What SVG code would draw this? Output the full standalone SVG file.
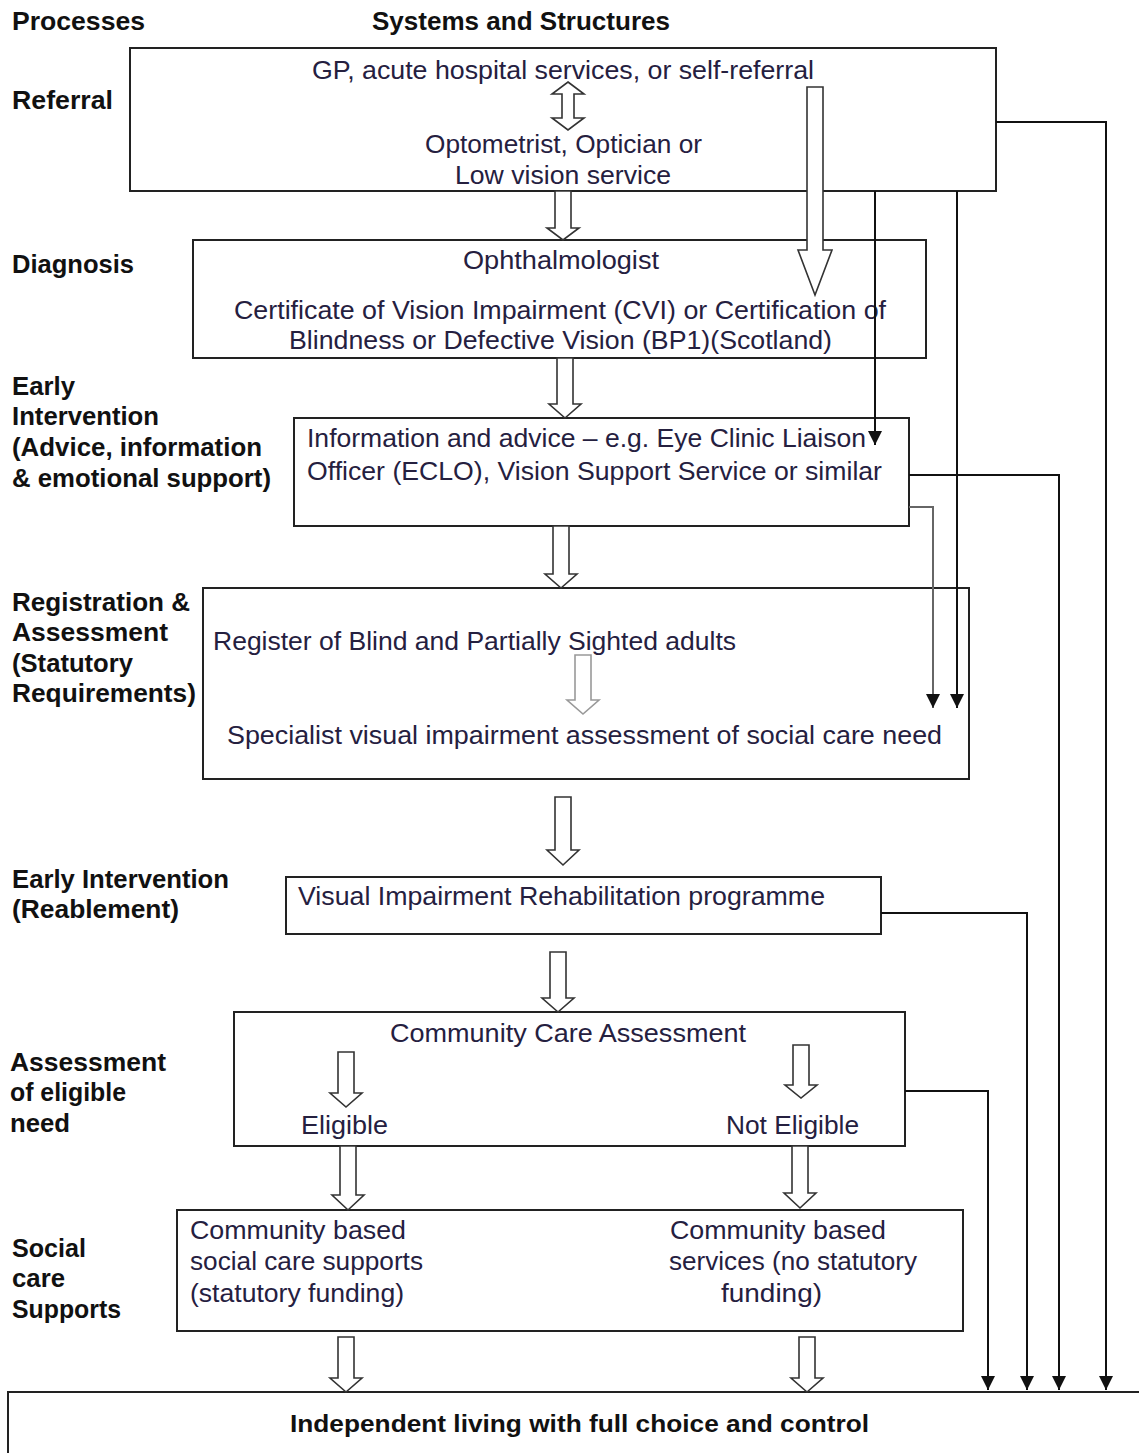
<svg xmlns="http://www.w3.org/2000/svg" width="1139" height="1453" viewBox="0 0 1139 1453">
<style>
.box{fill:#fff;stroke:#222;stroke-width:2}
.hd{font-family:"Liberation Sans",Arial,sans-serif;font-weight:bold;font-size:26px;fill:#111}
.lb{font-family:"Liberation Sans",Arial,sans-serif;font-weight:bold;font-size:25px;fill:#111}
.tx{font-family:"Liberation Sans",Arial,sans-serif;font-size:25px;fill:#25203f}
.bl{font-family:"Liberation Sans",Arial,sans-serif;font-weight:bold;font-size:24px;fill:#111}
.ha{fill:#fff;stroke:#333;stroke-width:1.6;stroke-linejoin:miter}
.hal{fill:#fff;stroke:#999;stroke-width:1.6}
.ln{fill:none;stroke:#111;stroke-width:2}
.lng{fill:none;stroke:#666;stroke-width:2}
</style>
<defs>
<marker id="ah" markerUnits="userSpaceOnUse" markerWidth="16" markerHeight="16" refX="14" refY="7" orient="auto">
<path d="M0,0 L14,7 L0,14 Z" fill="#111"/>
</marker>
</defs>

<g id="headers">
<text class="hd" x="12" y="30" textLength="133" lengthAdjust="spacingAndGlyphs">Processes</text>
<text class="hd" x="372" y="30" textLength="298" lengthAdjust="spacingAndGlyphs">Systems and Structures</text>
</g>

<g id="process-labels">
<text class="lb" x="12" y="109" textLength="101" lengthAdjust="spacingAndGlyphs">Referral</text>
<text class="lb" x="12" y="273" textLength="122" lengthAdjust="spacingAndGlyphs">Diagnosis</text>
<text class="lb" x="12" y="395" textLength="63" lengthAdjust="spacingAndGlyphs">Early</text>
<text class="lb" x="12" y="425" textLength="147" lengthAdjust="spacingAndGlyphs">Intervention</text>
<text class="lb" x="12" y="456" textLength="250" lengthAdjust="spacingAndGlyphs">(Advice, information</text>
<text class="lb" x="12" y="487" textLength="259" lengthAdjust="spacingAndGlyphs">&amp; emotional  support)</text>
<text class="lb" x="12" y="611" textLength="178" lengthAdjust="spacingAndGlyphs">Registration &amp;</text>
<text class="lb" x="12" y="641" textLength="156" lengthAdjust="spacingAndGlyphs">Assessment</text>
<text class="lb" x="12" y="672" textLength="121" lengthAdjust="spacingAndGlyphs">(Statutory</text>
<text class="lb" x="12" y="702" textLength="184" lengthAdjust="spacingAndGlyphs">Requirements)</text>
<text class="lb" x="12" y="888" textLength="217" lengthAdjust="spacingAndGlyphs">Early Intervention</text>
<text class="lb" x="12" y="918" textLength="167" lengthAdjust="spacingAndGlyphs">(Reablement)</text>
<text class="lb" x="10" y="1071" textLength="156" lengthAdjust="spacingAndGlyphs">Assessment</text>
<text class="lb" x="10" y="1101" textLength="116" lengthAdjust="spacingAndGlyphs">of eligible</text>
<text class="lb" x="10" y="1132" textLength="60" lengthAdjust="spacingAndGlyphs">need</text>
<text class="lb" x="12" y="1257" textLength="74" lengthAdjust="spacingAndGlyphs">Social</text>
<text class="lb" x="12" y="1287" textLength="53" lengthAdjust="spacingAndGlyphs">care</text>
<text class="lb" x="12" y="1318" textLength="109" lengthAdjust="spacingAndGlyphs">Supports</text>
</g>

<g id="referral">
<rect class="box" x="130" y="48" width="866" height="143"/>
<text class="tx" x="312" y="79" textLength="502" lengthAdjust="spacingAndGlyphs">GP, acute hospital services, or self-referral</text>
<path class="ha" d="M568,82 L584,94 L574,94 L574,118 L584,118 L568,130 L552,118 L562,118 L562,94 L552,94 Z"/>
<text class="tx" x="425" y="153" textLength="277" lengthAdjust="spacingAndGlyphs">Optometrist, Optician or</text>
<text class="tx" x="455" y="184" textLength="216" lengthAdjust="spacingAndGlyphs">Low vision service</text>
</g>

<g id="diagnosis">
<rect class="box" x="193" y="240" width="733" height="118"/>
<text class="tx" x="463" y="269" textLength="196" lengthAdjust="spacingAndGlyphs">Ophthalmologist</text>
<text class="tx" x="234" y="319" textLength="652" lengthAdjust="spacingAndGlyphs">Certificate of Vision Impairment (CVI) or Certification of</text>
<text class="tx" x="289" y="349" textLength="543" lengthAdjust="spacingAndGlyphs">Blindness or Defective Vision (BP1)(Scotland)</text>
</g>

<g id="early-intervention-advice">
<rect class="box" x="294" y="418" width="615" height="108"/>
<text class="tx" x="307" y="447" textLength="559" lengthAdjust="spacingAndGlyphs">Information and advice – e.g. Eye Clinic Liaison</text>
<text class="tx" x="307" y="480" textLength="575" lengthAdjust="spacingAndGlyphs">Officer (ECLO), Vision Support Service or similar</text>
</g>

<g id="registration-assessment">
<rect class="box" x="203" y="588" width="766" height="191"/>
<text class="tx" x="213" y="650" textLength="523" lengthAdjust="spacingAndGlyphs">Register of Blind and Partially Sighted adults</text>
<path class="hal" d="M575,655 L591,655 L591,700 L599,700 L583,714 L567,700 L575,700 Z"/>
<text class="tx" x="227" y="744" textLength="715" lengthAdjust="spacingAndGlyphs">Specialist visual impairment assessment of social care need</text>
</g>

<g id="reablement">
<rect class="box" x="286" y="877" width="595" height="57"/>
<text class="tx" x="298" y="905" textLength="527" lengthAdjust="spacingAndGlyphs">Visual Impairment Rehabilitation programme</text>
</g>

<g id="community-care-assessment">
<rect class="box" x="234" y="1012" width="671" height="134"/>
<text class="tx" x="390" y="1042" textLength="356" lengthAdjust="spacingAndGlyphs">Community Care Assessment</text>
<path class="ha" d="M338,1052 L354,1052 L354,1093 L362,1093 L346,1107 L330,1093 L338,1093 Z"/>
<path class="ha" d="M793,1045 L809,1045 L809,1085 L817,1085 L801,1098 L785,1085 L793,1085 Z"/>
<text class="tx" x="301" y="1134" textLength="87" lengthAdjust="spacingAndGlyphs">Eligible</text>
<text class="tx" x="726" y="1134" textLength="133" lengthAdjust="spacingAndGlyphs">Not Eligible</text>
</g>

<g id="social-care-supports">
<rect class="box" x="177" y="1210" width="786" height="121"/>
<text class="tx" x="190" y="1239" textLength="216" lengthAdjust="spacingAndGlyphs">Community based</text>
<text class="tx" x="190" y="1270" textLength="233" lengthAdjust="spacingAndGlyphs">social care supports</text>
<text class="tx" x="190" y="1302" textLength="214" lengthAdjust="spacingAndGlyphs">(statutory funding)</text>
<text class="tx" x="670" y="1239" textLength="216" lengthAdjust="spacingAndGlyphs">Community based</text>
<text class="tx" x="669" y="1270" textLength="248" lengthAdjust="spacingAndGlyphs">services (no statutory</text>
<text class="tx" x="721" y="1302" textLength="101" lengthAdjust="spacingAndGlyphs">funding)</text>
</g>

<g id="independent-living">
<rect class="box" x="8" y="1392" width="1140" height="70"/>
<text class="bl" x="290" y="1432" textLength="579" lengthAdjust="spacingAndGlyphs">Independent living with full choice and control</text>
</g>

<g id="connectors">
<path class="ha" d="M555,191 L571,191 L571,228 L579,228 L563,240 L547,228 L555,228 Z"/>
<path class="ha" d="M807,87 L823,87 L823,250 L832,250 L815,295 L798,250 L807,250 Z"/>
<path class="ha" d="M557,358 L573,358 L573,404 L581,404 L565,418 L549,404 L557,404 Z"/>
<path class="ha" d="M553,526 L569,526 L569,574 L577,574 L561,588 L545,574 L553,574 Z"/>
<path class="ha" d="M555,797 L571,797 L571,850 L579,850 L563,865 L547,850 L555,850 Z"/>
<path class="ha" d="M550,952 L566,952 L566,998 L574,998 L558,1012 L542,998 L550,998 Z"/>
<path class="ha" d="M340,1146 L356,1146 L356,1195 L364,1195 L348,1210 L332,1195 L340,1195 Z"/>
<path class="ha" d="M792,1146 L808,1146 L808,1193 L816,1193 L800,1208 L784,1193 L792,1193 Z"/>
<path class="ha" d="M338,1337 L354,1337 L354,1378 L362,1378 L346,1392 L330,1378 L338,1378 Z"/>
<path class="ha" d="M799,1337 L815,1337 L815,1378 L823,1378 L807,1392 L791,1378 L799,1378 Z"/>

<path class="ln" d="M996,122 L1106,122 L1106,1390" marker-end="url(#ah)"/>
<path class="ln" d="M875,191 L875,445" marker-end="url(#ah)"/>
<path class="ln" d="M957,191 L957,708" marker-end="url(#ah)"/>
<path class="ln" d="M909,475 L1059,475 L1059,1390" marker-end="url(#ah)"/>
<path class="lng" d="M909,507 L933,507 L933,708" marker-end="url(#ah)"/>
<path class="ln" d="M881,913 L1027,913 L1027,1390" marker-end="url(#ah)"/>
<path class="ln" d="M905,1091 L988,1091 L988,1390" marker-end="url(#ah)"/>
</g>
</svg>
